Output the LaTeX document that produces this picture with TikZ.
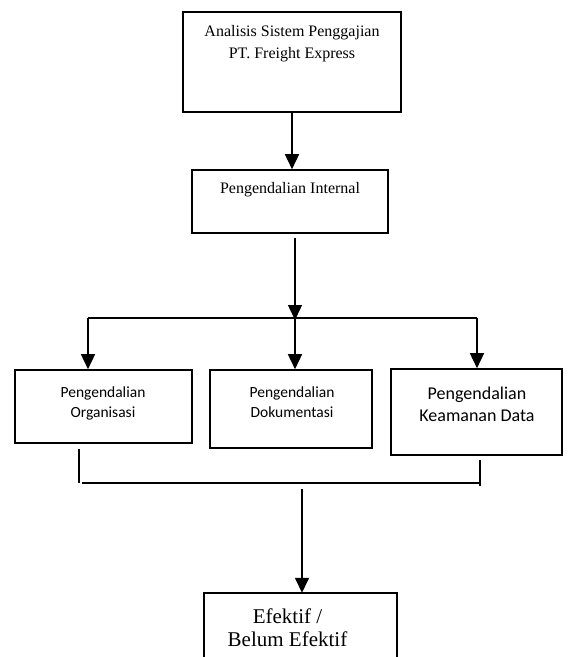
\documentclass[tikz,border=0pt]{standalone}
\usepackage{fontspec}
\setmainfont{Liberation Serif}
\newfontfamily\calibri{Carlito}
\usetikzlibrary{arrows.meta,calc}
\begin{document}
\begin{tikzpicture}[x=1pt,y=-1pt,
  box/.style={draw,line width=1.6pt,inner sep=0pt,minimum width=#1},
  txt/.style={align=center,inner sep=0pt},
  ln/.style={line width=1.5pt},
  arr/.style={line width=1.5pt,-{Triangle[width=14pt,length=15pt]}}]
\useasboundingbox (0,0) rectangle (568,657);
% boxes
\node[box=218pt,minimum height=100pt] (top) at (292,62) {};
\node[txt,font=\fontsize{16}{22}\selectfont] (toptxt) at (292,44) {Analisis Sistem Penggajian\\PT. Freight Express};
\node[box=196pt,minimum height=63pt] (b2) at (290,201.5) {};
\node[txt,font=\fontsize{16}{22}\selectfont] (b2txt) at (290,190) {Pengendalian Internal};
\node[box=177pt,minimum height=73pt] (A) at (103.5,406.5) {};
\node[txt,font=\calibri\fontsize{15.5}{20}\selectfont] (Atxt) at (103,403) {Pengendalian\\Organisasi};
\node[box=162pt,minimum height=78pt] (B) at (291,409) {};
\node[txt,font=\calibri\fontsize{15.5}{20}\selectfont] (Btxt) at (292,402) {Pengendalian\\Dokumentasi};
\node[box=171pt,minimum height=86pt] (C) at (476.5,412) {};
\node[txt,font=\calibri\fontsize{18}{22}\selectfont] (Ctxt) at (477,404) {Pengendalian\\Keamanan Data};
\node[inner sep=0pt,minimum width=193pt,minimum height=70pt] (E) at (300.5,628) {};
\node[txt,font=\fontsize{21}{23}\selectfont] (Etxt) at (287.5,628) {Efektif /\hspace{15pt}\\Belum Efektif};
\draw[line width=1.6pt] (E.south west) -- (E.north west) -- (E.north east) -- (E.south east);
% connectors
\draw[arr] (top.south) -- (top.south |- b2.north);
\coordinate (s2) at (295,238);
\coordinate (hm) at (295,318);
\coordinate (hl) at (88,318);
\coordinate (hr) at (477,318);
\draw[arr] (s2) -- ([yshift=-2pt]hm);
\draw[ln] (hl) -- (hr);
\draw[arr] (hl) -- (hl |- A.north);
\draw[arr] (hm) -- (hm |- B.north);
\draw[arr] (hr) -- (hr |- C.north);
\coordinate (la) at (79,449);
\coordinate (lb) at (79,483);
\coordinate (rb) at (480,483);
\coordinate (ra) at (480,460);
\coordinate (rc) at (480,486);
\draw[ln] (la) -- (lb);
\draw[ln] ([xshift=3pt]lb) -- (rb);
\draw[ln] (ra) -- (rc);
\coordinate (m1) at (302,489);
\draw[arr] (m1) -- (m1 |- E.north);
\end{tikzpicture}
\end{document}
